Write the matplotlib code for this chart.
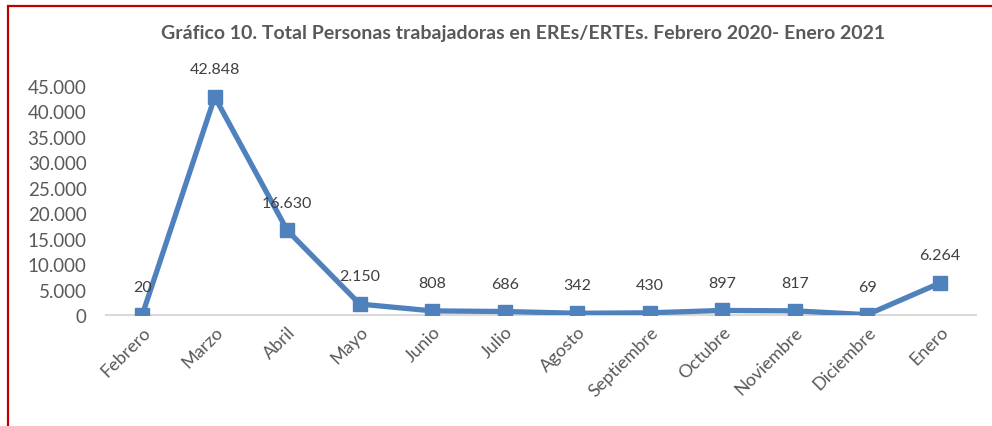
import matplotlib
matplotlib.use("Agg")
import matplotlib.pyplot as plt
from matplotlib.patches import Rectangle

months = ["Febrero", "Marzo", "Abril", "Mayo", "Junio", "Julio", "Agosto",
          "Septiembre", "Octubre", "Noviembre", "Diciembre", "Enero"]
values = [20, 42848, 16630, 2150, 808, 686, 342, 430, 897, 817, 69, 6264]
yticks = [0, 5000, 10000, 15000, 20000, 25000, 30000, 35000, 40000, 45000]
title = "Gráfico 10. Total Personas trabajadoras en EREs/ERTEs. Febrero 2020- Enero 2021"

def fmt(v):
    return f"{v:,}".replace(",", ".")

plt.rcParams['font.family'] = ['Lato', 'DejaVu Sans']

fig = plt.figure(figsize=(9.92, 4.27), dpi=100)
ax = fig.add_axes([106/992, 1-316/427, (976-106)/992, (316-87)/427])

x = list(range(len(months)))
color = "#4F81BD"
ax.plot(x, values, color=color, lw=3.8, marker="s", markersize=9.5, zorder=3,
        solid_joinstyle="miter")
for xi, v in zip(x, values):
    ax.annotate(fmt(v), (xi, v), xytext=(0, 20), textcoords="offset points",
                ha="center", va="center", fontsize=11.5, color="#404040")

ax.set_xlim(-0.5, len(months) - 0.5)
ax.set_ylim(0, 45000)
ax.set_yticks(yticks)
ax.set_yticklabels([fmt(t) for t in yticks], fontsize=13.5, color="#595959")
ax.set_xticks(x)
ax.set_xticklabels(months, rotation=45, ha="right", rotation_mode="anchor",
                   fontsize=13, color="#595959")
for s in ["top", "right", "left"]:
    ax.spines[s].set_visible(False)
ax.spines["bottom"].set_color("#D9D9D9")
ax.spines["bottom"].set_linewidth(1.5)
ax.spines["bottom"].set_zorder(1)
ax.tick_params(axis="both", length=0)
ax.tick_params(axis="y", pad=14)
ax.tick_params(axis="x", pad=6)

fig.text(523/992, 1-33/427, title, ha="center", va="center", fontsize=14,
         fontweight="bold", color="#595959")

fig.patches.append(Rectangle((8/992, -0.1), 1.2, 1-7/427+0.1, transform=fig.transFigure,
                             fill=False, edgecolor="#C00000", lw=1.6))

fig.savefig("out.png", dpi=100)
